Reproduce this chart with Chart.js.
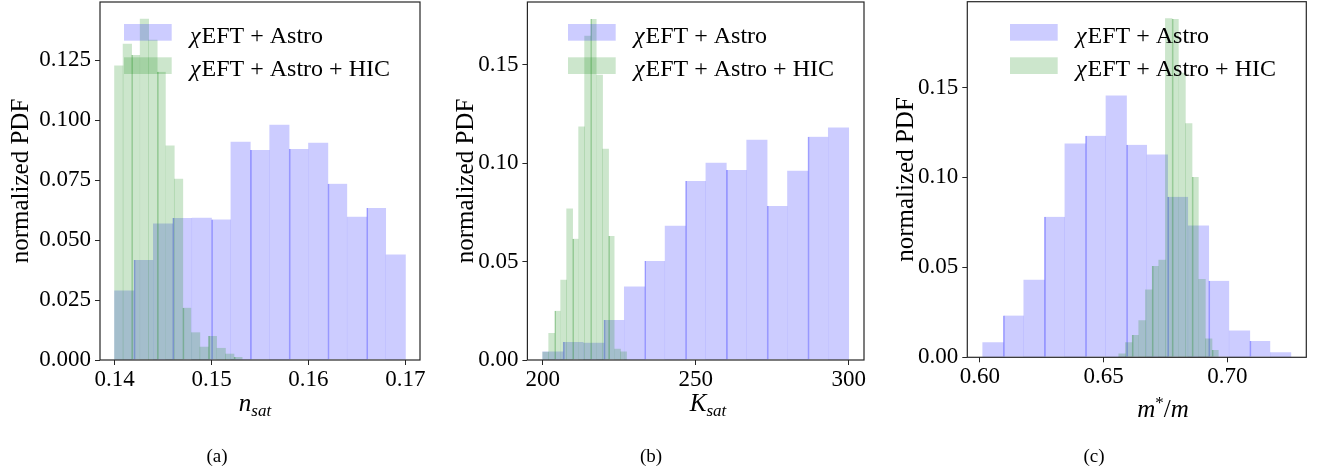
<!DOCTYPE html>
<html>
<head>
<meta charset="utf-8">
<script src="https://cdn.jsdelivr.net/npm/chart.js@4.4.0/dist/chart.umd.min.js"></script>
<style>
  html,body{margin:0;padding:0;background:#fff;}
  #wrap{position:relative;width:1319px;height:473px;overflow:hidden;font-family:'Liberation Serif',serif;color:#000;}
  #wrap canvas{position:absolute;top:0;}
  .xlab{position:absolute;top:390px;font-size:25px;line-height:25px;transform:translateX(-50%);white-space:nowrap;}
  .xlab sub{font-size:17px;vertical-align:-5px;}
  .xlab sup{font-size:17px;vertical-align:9px;}
  .cap{position:absolute;top:446px;font-size:19px;line-height:19px;transform:translateX(-50%);}
</style>
</head>
<body>
<div id="wrap">
  <canvas id="chart-nsat"  width="440" height="473" style="left:0px"></canvas>
  <canvas id="chart-ksat"  width="440" height="473" style="left:440px"></canvas>
  <canvas id="chart-mstar" width="439" height="473" style="left:880px"></canvas>

  <div class="xlab" style="left:255px"><i>n</i><sub><i>sat</i></sub></div>
  <div class="xlab" style="left:708px"><i>K</i><sub><i>sat</i></sub></div>
  <div class="xlab" style="left:1163px"><i>m</i><sup>*</sup>/<i>m</i></div>

  <div class="cap" style="left:217px">(a)</div>
  <div class="cap" style="left:651px">(b)</div>
  <div class="cap" style="left:1094px">(c)</div>
</div>

<script>
  // ── DATA ───────────────────────────────────────────────────────────────────
  // normalized PDF per bin; bins split [lo, hi] into equal widths
  const labelAstro = 'χEFT + Astro';
  const labelHic   = 'χEFT + Astro + HIC';

  const nsatAstroRange = [0.140, 0.170];
  const nsatAstro      = [0.0288, 0.0417, 0.0567, 0.0592, 0.0592, 0.0586, 0.0908, 0.0875, 0.0979, 0.0879, 0.0904, 0.0735, 0.0596, 0.0633, 0.0438];
  const nsatHicRange   = [0.1400, 0.1532];
  const nsatHic        = [0.1226, 0.1317, 0.1271, 0.1421, 0.1333, 0.1201, 0.0893, 0.0754, 0.0218, 0.0114, 0.0054, 0.0100, 0.0049, 0.0025, 0.0013];
  const nsatTicksX     = ['0.14', '0.15', '0.16', '0.17'];
  const nsatTicksY     = ['0.000', '0.025', '0.050', '0.075', '0.100', '0.125'];

  const ksatAstroRange = [200, 300];
  const ksatAstro      = [0.0042, 0.0091, 0.0086, 0.0203, 0.0372, 0.0503, 0.0680, 0.0909, 0.1000, 0.0964, 0.1117, 0.0782, 0.0959, 0.1134, 0.1179];
  const ksatHicRange   = [200, 227.4];
  const ksatHic        = [0.0040, 0.0135, 0.0250, 0.0406, 0.0768, 0.0616, 0.1184, 0.1645, 0.1731, 0.1447, 0.1071, 0.0629, 0.0056, 0.0042];
  const ksatTicksX     = ['200', '250', '300'];
  const ksatTicksY     = ['0.00', '0.05', '0.10', '0.15'];

  const mstarAstroRange = [0.6011, 0.7257];
  const mstarAstro      = [0.0082, 0.0232, 0.0430, 0.0781, 0.1187, 0.1232, 0.1454, 0.1182, 0.1126, 0.0892, 0.0731, 0.0425, 0.0147, 0.0091, 0.0026];
  const mstarHicRange   = [0.6561, 0.6965];
  const mstarHic        = [0.0019, 0.0082, 0.0124, 0.0204, 0.0375, 0.0508, 0.0541, 0.1883, 0.1881, 0.1580, 0.1300, 0.1003, 0.0434, 0.0102, 0.0041];
  const mstarTicksX     = ['0.60', '0.65', '0.70'];
  const mstarTicksY     = ['0.00', '0.05', '0.10', '0.15'];

  // ── STYLE ──────────────────────────────────────────────────────────────────
  const FONT      = "'Liberation Serif', serif";
  const BLUE      = 'rgba(0,0,255,0.2)';
  const BLUE_EDGE = 'rgba(0,0,255,0.32)';
  const GREEN     = 'rgba(0,128,0,0.2)';
  const GREEN_EDGE= 'rgba(0,128,0,0.32)';
  const SPINE     = '#262626';

  function binCenters(range, n) {
    const w = (range[1] - range[0]) / n;
    return Array.from({length:n}, (_, i) => range[0] + w * (i + 0.5));
  }
  function toPoints(range, vals) {
    const xs = binCenters(range, vals.length);
    return vals.map((y, i) => ({ x: xs[i], y }));
  }
  // keep the plot box where it is: no extra room for overhanging tick labels
  function noScalePadding(s) {
    s.paddingTop = s.paddingBottom = s.paddingLeft = s.paddingRight = 0;
  }

  // frame on all four sides + legend with translucent patches (no box)
  const framePlugin = {
    id: 'frameLegend',
    afterDatasetsDraw(chart, args, opts) {
      const { ctx, chartArea: a } = chart;
      ctx.save();
      ctx.strokeStyle = SPINE;
      ctx.lineWidth = 1.2;
      ctx.strokeRect(a.left, a.top, a.right - a.left, a.bottom - a.top);

      const x0 = a.left + opts.dx, y0 = a.top + opts.dy;
      chart.data.datasets.forEach((ds, i) => {
        const y = y0 + i * 33.3;
        ctx.fillStyle = ds.backgroundColor;
        ctx.fillRect(x0, y, 47.7, 16.7);
        ctx.fillStyle = '#000';
        ctx.textBaseline = 'alphabetic';
        ctx.textAlign = 'left';
        ctx.font = `italic 24px ${FONT}`;
        ctx.fillText(ds.label[0], x0 + 66, y + 18.8);
        const w = ctx.measureText(ds.label[0]).width;
        ctx.font = `24px ${FONT}`;
        ctx.fillText(ds.label.slice(1), x0 + 66 + w + 1, y + 18.8);
      });
      ctx.restore();
    }
  };

  // ── CHART SETUP ────────────────────────────────────────────────────────────
  function makePanel(id, p) {
    const lo = Math.min(p.astroRange[0], p.hicRange[0]);
    const hi = Math.max(p.astroRange[1], p.hicRange[1]);
    const pad = (hi - lo) * 0.05;
    const ymax = Math.max(...p.astro, ...p.hic) * 1.05;

    const tickFont = { family: FONT, size: 23 };
    const xTicks = p.ticksX.map(Number);
    const yTicks = p.ticksY.map(Number);

    return new Chart(document.getElementById(id), {
      type: 'bar',
      data: {
        datasets: [
          {
            label: labelAstro, data: toPoints(p.astroRange, p.astro), xAxisID: 'x',
            backgroundColor: BLUE, borderColor: BLUE_EDGE,
            borderWidth: c => ({ left: c.dataIndex % 2 ? 1 : 0, right: 0, top: 0, bottom: 0 }),
            borderSkipped: false, barPercentage: 1, categoryPercentage: 1, grouped: false, order: 1,
          },
          {
            label: labelHic, data: toPoints(p.hicRange, p.hic), xAxisID: 'x2',
            backgroundColor: GREEN, borderColor: GREEN_EDGE,
            borderWidth: c => ({ left: c.dataIndex % 3 === 2 ? 1 : 0, right: 0, top: 0, bottom: 0 }),
            borderSkipped: false, barPercentage: 1, categoryPercentage: 1, grouped: false, order: 0,
          },
        ]
      },
      options: {
        responsive: false,
        animation: false,
        devicePixelRatio: 1,
        layout: { autoPadding: false, padding: { left: 0, right: p.padRight, top: p.padTop, bottom: 0 } },
        plugins: {
          legend: { display: false },
          tooltip: { enabled: false },
          frameLegend: { dx: p.legendDx, dy: p.legendDy },
        },
        scales: {
          x: {
            type: 'linear', min: lo - pad, max: hi + pad, offset: false,
            grid: { display: true, offset: false, drawOnChartArea: false, drawTicks: true, tickLength: 5, color: SPINE, lineWidth: 1 },
            border: { display: false },
            ticks: { font: tickFont, color: '#000', padding: 1, maxRotation: 0,
                     callback: (v) => p.ticksX[xTicks.indexOf(v)] },
            afterBuildTicks: s => { s.ticks = xTicks.map(v => ({ value: v })); },
            afterFit: s => { s.height = p.xAxisH; noScalePadding(s); },
          },
          x2: { type: 'linear', display: false, offset: false, grid: { offset: false }, min: lo - pad, max: hi + pad },
          y: {
            min: 0, max: ymax,
            grid: { display: true, drawOnChartArea: false, drawTicks: true, tickLength: 5, color: SPINE, lineWidth: 1 },
            border: { display: false },
            ticks: { font: tickFont, color: '#000', padding: 4,
                     callback: (v) => p.ticksY[yTicks.indexOf(v)] },
            afterBuildTicks: s => { s.ticks = yTicks.map(v => ({ value: v })); },
            afterFit: s => { s.width = p.yAxisW; noScalePadding(s); },
            title: { display: true, text: 'normalized PDF', color: '#000',
                     font: { family: FONT, size: 25 }, padding: { top: p.titlePad, bottom: 0 } },
          },
        }
      },
      plugins: [framePlugin]
    });
  }

  makePanel('chart-nsat', {
    astroRange: nsatAstroRange, astro: nsatAstro, hicRange: nsatHicRange, hic: nsatHic,
    ticksX: nsatTicksX, ticksY: nsatTicksY,
    yAxisW: 100, padRight: 20, padTop: 2, xAxisH: 113, titlePad: 6.7, legendDx: 24, legendDy: 22,
  });
  makePanel('chart-ksat', {
    astroRange: ksatAstroRange, astro: ksatAstro, hicRange: ksatHicRange, hic: ksatHic,
    ticksX: ksatTicksX, ticksY: ksatTicksY,
    yAxisW: 87.4, padRight: 16, padTop: 2, xAxisH: 113, titlePad: 11.5, legendDx: 40.6, legendDy: 22,
  });
  makePanel('chart-mstar', {
    astroRange: mstarAstroRange, astro: mstarAstro, hicRange: mstarHicRange, hic: mstarHic,
    ticksX: mstarTicksX, ticksY: mstarTicksY,
    yAxisW: 87.3, padRight: 12.7, padTop: 1.7, xAxisH: 115.7, titlePad: 11.7, legendDx: 42.7, legendDy: 22.3,
  });
</script>
</body>
</html>
